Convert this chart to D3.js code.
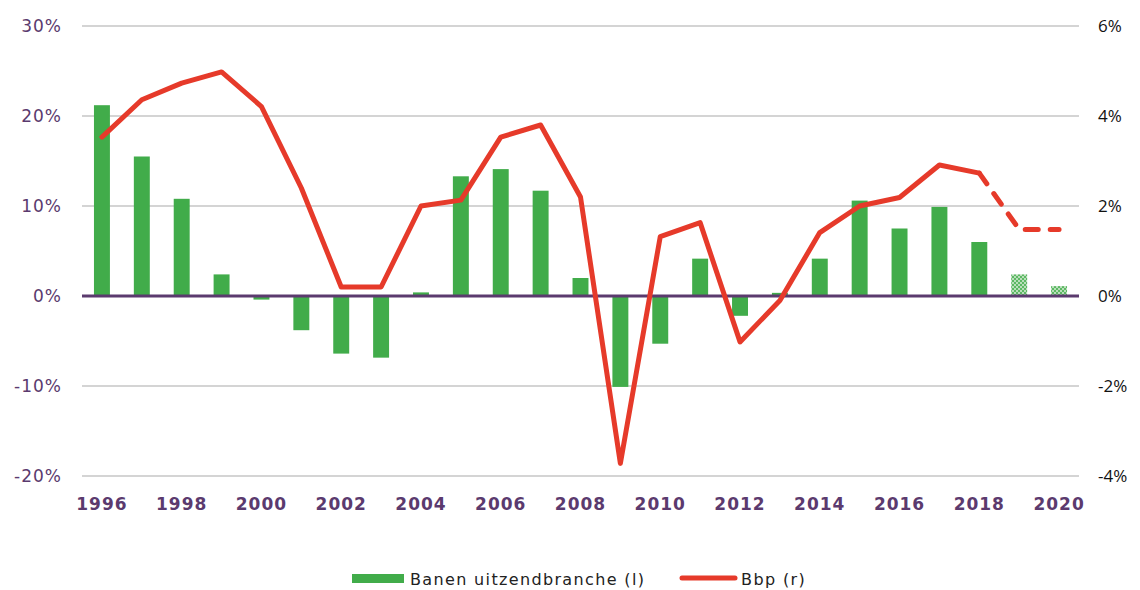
<!DOCTYPE html>
<html>
<head>
<meta charset="utf-8">
<script src="https://cdn.jsdelivr.net/npm/d3@7"></script>
<style>
  body { margin: 0; background: #fff; }
  svg text { font-family: "DejaVu Sans", Verdana, sans-serif; }
</style>
</head>
<body>
<svg id="chart" width="1140" height="590"></svg>
<script>
// years on the x axis
const years = d3.range(1996, 2021);
// jobs in temp agency sector, % change (left axis)
const banen = [21.2, 15.5, 10.8, 2.4, -0.4, -3.8, -6.4, -6.85, 0.4, 13.3,
               14.1, 11.7, 2.0, -10.1, -5.3, 4.15, -2.2, 0.35, 4.15, 10.6,
               7.5, 9.9, 6.0, 2.4, 1.1];
// GDP growth, % (right axis)
const bbp = [3.53, 4.36, 4.73, 4.98, 4.21, 2.4, 0.2, 0.2, 2.0, 2.13,
             3.53, 3.8, 2.2, -3.72, 1.32, 1.63, -1.02, -0.1, 1.41, 2.0,
             2.19, 2.91, 2.73, 1.48, 1.48];
const forecastFrom = 2018;          // line dashed from here on
const forecastBars = [2019, 2020];  // bars drawn hatched
const leftTicks = [-20, -10, 0, 10, 20, 30];
const rightTicks = [-4, -2, 0, 2, 4, 6];
const xLabels = years.filter(y => y % 2 === 0);

const green = '#41ac4a', red = '#e63a2a', purple = '#5b3a6e', grid = '#c6c6c6';

const svg = d3.select('#chart');
const plotLeft = 82, plotRight = 1079, plotTop = 26, plotBottom = 476;

const x = d3.scaleBand().domain(years).range([plotLeft, plotRight]).paddingInner(0.6).paddingOuter(0.3);
const yL = d3.scaleLinear().domain([-20, 30]).range([plotBottom, plotTop]);
const yR = d3.scaleLinear().domain([-4, 6]).range([plotBottom, plotTop]);
const cx = d => x(d) + x.bandwidth() / 2;

// checkered pattern for forecast bars
const pat = svg.append('defs').append('pattern')
    .attr('id', 'checks').attr('width', 4).attr('height', 4)
    .attr('patternUnits', 'userSpaceOnUse');
pat.append('rect').attr('width', 4).attr('height', 4).attr('fill', '#b9dfba');
pat.append('rect').attr('width', 2).attr('height', 2).attr('fill', '#5cb863');
pat.append('rect').attr('x', 2).attr('y', 2).attr('width', 2).attr('height', 2).attr('fill', '#5cb863');

// gridlines
svg.append('g').selectAll('line')
    .data(leftTicks.filter(t => t !== 0))
    .join('line')
    .attr('x1', plotLeft).attr('x2', plotRight)
    .attr('y1', d => yL(d)).attr('y2', d => yL(d))
    .attr('stroke', grid).attr('stroke-width', 1.5);

// left axis labels
svg.append('g').selectAll('text')
    .data(leftTicks)
    .join('text')
    .attr('x', 62).attr('y', d => yL(d) + 6)
    .attr('text-anchor', 'end')
    .attr('fill', purple).attr('font-size', 17)
    .attr('letter-spacing', 1)
    .text(d => d + '%');

// right axis labels
svg.append('g').selectAll('text')
    .data(rightTicks)
    .join('text')
    .attr('x', 1098).attr('y', d => yR(d) + 6)
    .attr('fill', '#111').attr('font-size', 17)
    .style('font-family', '"Open Sans", "Noto Sans", sans-serif')
    .text(d => d + '%');

// bars
const barData = years.map((y, i) => ({ year: y, value: banen[i] }));
svg.append('g').selectAll('rect')
    .data(barData)
    .join('rect')
    .attr('x', d => x(d.year))
    .attr('width', x.bandwidth())
    .attr('y', d => yL(Math.max(0, d.value)))
    .attr('height', d => Math.abs(yL(d.value) - yL(0)))
    .attr('fill', d => forecastBars.includes(d.year) ? 'url(#checks)' : green);

// zero line
svg.append('line')
    .attr('x1', plotLeft).attr('x2', plotRight)
    .attr('y1', yL(0)).attr('y2', yL(0))
    .attr('stroke', purple).attr('stroke-width', 3);

// GDP line
const lineData = years.map((y, i) => ({ year: y, value: bbp[i] }));
const line = d3.line().x(d => cx(d.year)).y(d => yR(d.value));
svg.append('path')
    .datum(lineData.filter(d => d.year <= forecastFrom))
    .attr('d', line)
    .attr('fill', 'none').attr('stroke', red).attr('stroke-width', 5)
    .attr('stroke-linejoin', 'round').attr('stroke-linecap', 'round');
svg.append('path')
    .datum(lineData.filter(d => d.year >= forecastFrom))
    .attr('d', line)
    .attr('fill', 'none').attr('stroke', red).attr('stroke-width', 5)
    .attr('stroke-dasharray', '13 12')
    .attr('stroke-linecap', 'round');

// x labels
svg.append('g').selectAll('text')
    .data(xLabels)
    .join('text')
    .attr('x', d => cx(d)).attr('y', 510)
    .attr('text-anchor', 'middle')
    .attr('fill', purple).attr('font-size', 17).attr('font-weight', 'bold')
    .attr('letter-spacing', 1)
    .text(d => d);

// legend
const lg = svg.append('g');
lg.append('rect').attr('x', 352).attr('y', 574).attr('width', 52).attr('height', 9).attr('fill', green);
lg.append('text').attr('x', 410).attr('y', 585).attr('font-size', 16).attr('fill', '#222')
    .attr('letter-spacing', 1.35)
    .text('Banen uitzendbranche (l)');
lg.append('line').attr('x1', 682).attr('x2', 735).attr('y1', 578).attr('y2', 578)
    .attr('stroke', red).attr('stroke-width', 5).attr('stroke-linecap', 'round');
lg.append('text').attr('x', 741).attr('y', 585).attr('font-size', 16).attr('fill', '#222')
    .attr('letter-spacing', 1.4)
    .text('Bbp (r)');
</script>
</body>
</html>
